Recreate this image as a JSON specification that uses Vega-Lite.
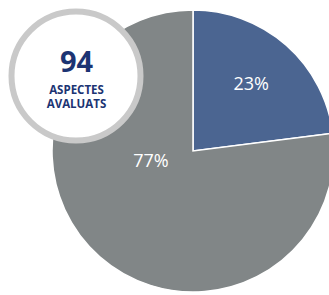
{
  "$schema": "https://vega.github.io/schema/vega-lite/v6.json",
  "autosize": "none",
  "padding": 0,
  "width": 386,
  "height": 302,
  "background": "white",
  "config": {"view": {"stroke": null}},
  "datasets": {
    "slices": [
      {"part": "A", "value": 23, "label": "23%"},
      {"part": "B", "value": 77, "label": "77%"}
    ],
    "badge": [
      {"total": "94", "line1": "ASPECTES", "line2": "AVALUATS"}
    ]
  },
  "layer": [
    {
      "data": {"name": "slices"},
      "mark": {"type": "arc", "outerRadius": 141, "stroke": "white", "strokeWidth": 1.5},
      "encoding": {
        "theta": {"field": "value", "type": "quantitative", "stack": true},
        "order": {"field": "value", "sort": "ascending"},
        "color": {"field": "part", "type": "nominal", "legend": null,
          "scale": {"domain": ["A", "B"], "range": ["#4b6591", "#818687"]}}
      }
    },
    {
      "data": {"name": "slices"},
      "transform": [{"filter": "datum.part === 'A'"}],
      "mark": {"type": "text", "radius": 88, "font": "Open Sans", "fontSize": 18, "color": "white"},
      "encoding": {
        "theta": {"field": "value", "type": "quantitative", "stack": true, "scale": {"domain": [0, 100]}},
        "text": {"field": "label"}
      }
    },
    {
      "data": {"name": "slices"},
      "transform": [{"filter": "datum.part === 'B'"}],
      "mark": {"type": "text", "radius": 0, "dx": -42, "dy": 11, "font": "Open Sans", "fontSize": 18, "color": "white"},
      "encoding": {
        "theta": {"field": "value", "type": "quantitative"},
        "text": {"field": "label"}
      }
    },
    {
      "data": {"name": "badge"},
      "mark": {"type": "point", "shape": "circle", "filled": true, "fill": "white", "stroke": "#c9c9c9", "strokeWidth": 6, "size": 16641, "opacity": 1},
      "encoding": {"x": {"value": 76}, "y": {"value": 76}}
    },
    {
      "data": {"name": "badge"},
      "mark": {"type": "text", "font": "Open Sans", "fontWeight": "bold", "fontSize": 29, "color": "#1c3473"},
      "encoding": {"x": {"value": 76.5}, "y": {"value": 62.5}, "text": {"field": "total"}}
    },
    {
      "data": {"name": "badge"},
      "mark": {"type": "text", "font": "Open Sans", "fontWeight": "bold", "fontSize": 11.5, "color": "#1c3473"},
      "encoding": {"x": {"value": 76.5}, "y": {"value": 90.5}, "text": {"field": "line1"}}
    },
    {
      "data": {"name": "badge"},
      "mark": {"type": "text", "font": "Open Sans", "fontWeight": "bold", "fontSize": 11.5, "color": "#1c3473"},
      "encoding": {"x": {"value": 76.5}, "y": {"value": 105}, "text": {"field": "line2"}}
    }
  ]
}
